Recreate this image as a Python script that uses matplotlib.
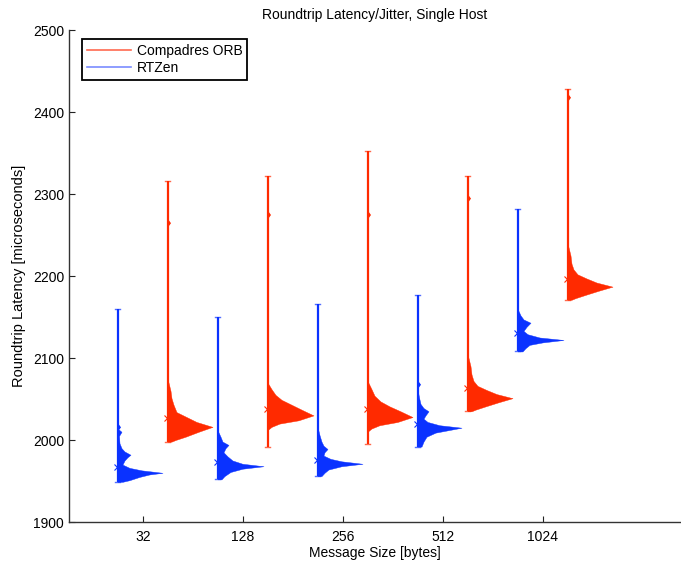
import numpy as np
import matplotlib
matplotlib.use('Agg')
import matplotlib.pyplot as plt
from matplotlib.lines import Line2D

plt.rcParams['font.family'] = ['Liberation Sans', 'DejaVu Sans']
plt.rcParams['font.size'] = 10

# message sizes on the x axis
sizes = ['32', '128', '256', '512', '1024']

# Compadres ORB (red) summary values, microseconds
orb_min = [1998, 1992, 1995, 2035, 2171]
orb_max = [2316, 2322, 2352, 2322, 2428]
orb_mean = [2027, 2038, 2038, 2063, 2196]
orb_spike = [2265, 2275, 2275, 2295, 2418]

# RTZen (blue) summary values, microseconds
rtzen_min = [1949, 1952, 1956, 1992, 2108]
rtzen_max = [2160, 2150, 2166, 2177, 2282]
rtzen_mean = [1967, 1973, 1976, 2020, 2130]
rtzen_spike = [2016, np.nan, np.nan, 2068, np.nan]

# histogram outlines (latency, width in axis units)
orb_hist_lat = [
    [1998, 2000, 2004, 2010, 2016, 2022, 2028, 2034, 2043, 2051, 2060, 2075],
    [2012, 2016, 2020, 2024, 2030, 2037, 2043, 2049, 2055, 2062, 2070],
    [2010, 2014, 2018, 2022, 2028, 2035, 2041, 2047, 2054, 2062, 2072],
    [2035, 2037, 2041, 2046, 2051, 2056, 2061, 2066, 2072, 2080, 2090, 2105],
    [2171, 2173, 2177, 2182, 2187, 2192, 2197, 2202, 2208, 2215, 2225, 2240],
]
orb_hist_w = [
    [0.04, 0.08, 0.18, 0.31, 0.45, 0.29, 0.19, 0.09, 0.06, 0.04, 0.03, 0.0],
    [0.0, 0.04, 0.12, 0.31, 0.46, 0.34, 0.24, 0.14, 0.08, 0.04, 0.0],
    [0.0, 0.04, 0.12, 0.30, 0.45, 0.33, 0.22, 0.13, 0.07, 0.04, 0.0],
    [0.04, 0.08, 0.18, 0.31, 0.45, 0.29, 0.19, 0.10, 0.06, 0.04, 0.03, 0.0],
    [0.04, 0.08, 0.18, 0.31, 0.45, 0.29, 0.19, 0.10, 0.06, 0.04, 0.03, 0.0],
]
rtzen_hist_lat = [
    [1949, 1951, 1955, 1958, 1960, 1963, 1966, 1970, 1975, 1979, 1982, 1986, 1990, 1996, 2005, 2010, 2014],
    [1952, 1956, 1961, 1965, 1968, 1971, 1975, 1980, 1985, 1990, 1994, 1998, 2004, 2012],
    [1956, 1960, 1964, 1968, 1971, 1974, 1977, 1981, 1985, 1989, 1993, 1998, 2006, 2016],
    [1992, 1998, 2004, 2009, 2015, 2018, 2022, 2026, 2030, 2035, 2039, 2044, 2052, 2062],
    [2108, 2112, 2116, 2119, 2122, 2125, 2129, 2133, 2138, 2143, 2147, 2152, 2160],
]
rtzen_hist_w = [
    [0.05, 0.12, 0.22, 0.32, 0.45, 0.24, 0.12, 0.05, 0.07, 0.10, 0.13, 0.07, 0.04, 0.02, 0.015, 0.04, 0.0],
    [0.04, 0.07, 0.13, 0.25, 0.46, 0.25, 0.15, 0.10, 0.06, 0.08, 0.11, 0.05, 0.03, 0.0],
    [0.04, 0.07, 0.11, 0.24, 0.45, 0.24, 0.13, 0.06, 0.07, 0.10, 0.06, 0.04, 0.02, 0.0],
    [0.04, 0.06, 0.09, 0.18, 0.44, 0.22, 0.10, 0.06, 0.08, 0.11, 0.06, 0.03, 0.015, 0.0],
    [0.05, 0.08, 0.12, 0.25, 0.46, 0.22, 0.10, 0.06, 0.09, 0.13, 0.06, 0.03, 0.0],
]

RED = '#ff2a00'
BLUE = '#0a32ff'


def draw_series(ax, xs, mins, maxs, means, spikes, hlat, hw, color):
    for x, lo, hi, mu, sp, lat, w in zip(xs, mins, maxs, means, spikes, hlat, hw):
        ax.plot([x, x], [lo, hi], color=color, lw=1.6, solid_capstyle='butt')
        ax.plot([x - 0.025, x + 0.025], [lo, lo], color=color, lw=1.0, alpha=0.7)
        ax.plot([x - 0.025, x + 0.025], [hi, hi], color=color, lw=1.0, alpha=0.7)
        lat = np.array(lat, dtype=float)
        w = np.array(w, dtype=float)
        ax.fill_betweenx(lat, x, x + w, color=color, lw=0.3)
        if not np.isnan(sp):
            ax.fill_betweenx([sp - 5, sp, sp + 5], x, [x, x + 0.03, x], color=color, lw=0)
        ax.plot(x - 0.01, mu, marker='x', color=color, ms=4, mew=0.8)


fig = plt.figure(figsize=(6.81, 5.62), dpi=100)
ax = fig.add_axes([69 / 681, 40 / 562, 612 / 681, 492 / 562])

pos = np.arange(1, len(sizes) + 1)
draw_series(ax, pos - 0.255, rtzen_min, rtzen_max, rtzen_mean, rtzen_spike,
            rtzen_hist_lat, rtzen_hist_w, BLUE)
draw_series(ax, pos + 0.245, orb_min, orb_max, orb_mean, orb_spike,
            orb_hist_lat, orb_hist_w, RED)

ax.set_xlim(0.26, 6.38)
ax.set_ylim(1900, 2500)
ax.set_xticks(pos)
ax.set_xticklabels(sizes)
ax.set_yticks(np.arange(1900, 2501, 100))
ax.tick_params(direction='in', length=4, width=0.8, colors='#222222', labelcolor='black')
ax.tick_params(axis='x', pad=6)
for side in ['top', 'right']:
    ax.spines[side].set_visible(False)
for side in ['left', 'bottom']:
    ax.spines[side].set_color('#333333')
    ax.spines[side].set_linewidth(1.0)

ax.set_title('Roundtrip Latency/Jitter, Single Host', fontsize=10, pad=8)
ax.set_xlabel('Message Size [bytes]', labelpad=1)
ax.set_ylabel('Roundtrip Latency [microseconds]', fontsize=10.5, labelpad=5)

handles = [Line2D([], [], color='#ff6a50', lw=1.2),
           Line2D([], [], color='#7a8cff', lw=1.2)]
leg = ax.legend(handles, ['Compadres ORB', 'RTZen'], loc='upper left',
                bbox_to_anchor=(0.0208, 0.9817), borderaxespad=0,
                fancybox=False, framealpha=1, edgecolor='black',
                handlelength=3.2, handletextpad=0.4, labelspacing=0.25,
                borderpad=0.35, fontsize=10)
leg.get_frame().set_linewidth(1.3)

fig.savefig('out.png', dpi=100)
